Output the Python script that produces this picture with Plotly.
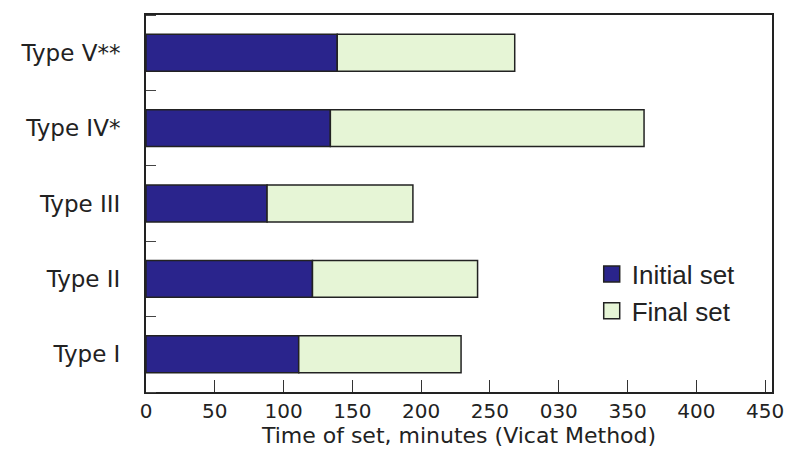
import plotly.graph_objects as go

types = ["Type I", "Type II", "Type III", "Type IV*", "Type V**"]
initial_set = [111, 121, 88, 134, 139]
final_set = [229, 241, 194, 362, 268]
x_tick_vals = [0, 50, 100, 150, 200, 250, 300, 350, 400, 450]
x_tick_text = ["0", "50", "100", "150", "200", "250", "030", "350", "400", "450"]

pos = list(range(len(types)))
final_extra = [f - i for f, i in zip(final_set, initial_set)]

blue = "#2a248c"
green = "#e6f5d6"
dv = "DejaVu Sans, Verdana, sans-serif"
lib = "Liberation Sans, Arial, sans-serif"

fig = go.Figure()
fig.add_trace(go.Bar(
    y=pos, x=initial_set, orientation="h", width=0.49,
    marker=dict(color=blue, line=dict(color="#222", width=1.5)),
    showlegend=False, name="Initial set"))
fig.add_trace(go.Bar(
    y=pos, x=final_extra, base=initial_set, orientation="h", width=0.49,
    marker=dict(color=green, line=dict(color="#222", width=1.5)),
    showlegend=False, name="Final set"))
fig.add_trace(go.Scatter(
    x=[None], y=[None], mode="markers", name="Initial set",
    marker=dict(symbol="square", size=24, color=blue, line=dict(color="#222", width=1.5))))
fig.add_trace(go.Scatter(
    x=[None], y=[None], mode="markers", name="Final set",
    marker=dict(symbol="square", size=24, color=green, line=dict(color="#222", width=1.5))))

fig.update_layout(
    width=796, height=450,
    margin=dict(l=146, r=15, t=15, b=57),
    paper_bgcolor="white", plot_bgcolor="white",
    barmode="overlay",
    font=dict(family=dv, size=20, color="#222"),
    legend=dict(x=0.712, y=0.375, xanchor="left", yanchor="top",
                bgcolor="rgba(0,0,0,0)", font=dict(family=lib, size=26),
                itemsizing="trace", tracegroupgap=2),
    xaxis=dict(
        range=[0, 455], tickvals=x_tick_vals, ticktext=x_tick_text,
        ticks="inside", ticklen=12, tickwidth=1.2, tickcolor="#333",
        showgrid=False, zeroline=False,
        showline=True, linecolor="#222", linewidth=2, mirror=True,
        tickfont=dict(family=dv, size=20),
        title=dict(text="Time of set, minutes (Vicat Method)",
                   font=dict(family=dv, size=22), standoff=0),
    ),
    yaxis=dict(
        range=[-0.5, 4.5], tickvals=pos, ticktext=types, ticks="",
        showgrid=False, zeroline=False,
        showline=True, linecolor="#222", linewidth=2, mirror=True,
        tickfont=dict(family=dv, size=23), ticklabelstandoff=19,
        minor=dict(ticks="inside", tick0=0.5, dtick=1, ticklen=10,
                   tickwidth=1, tickcolor="#444", showgrid=False),
    ),
)

fig.write_html("out.html")
